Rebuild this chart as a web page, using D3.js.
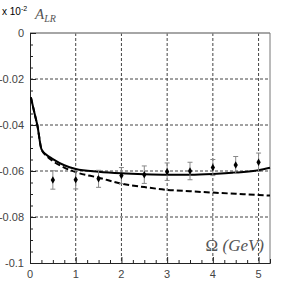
<!DOCTYPE html>
<html>
<head>
<meta charset="utf-8">
<script src="https://cdn.jsdelivr.net/npm/d3@7"></script>
<style>
  body { margin: 0; background: #fff; }
  svg { display: block; }
</style>
</head>
<body>
<svg id="chart"></svg>
<script>
// measured points with errors
var ptX = [0.5, 1.0, 1.5, 2.0, 2.5, 3.0, 3.5, 4.0, 4.5, 5.0];
var ptY = [-0.0639, -0.0638, -0.0634, -0.0620, -0.0616, -0.0603, -0.0600, -0.0585, -0.0574, -0.0562];
var ptErr = [0.0040, 0.0040, 0.0037, 0.0035, 0.0038, 0.0038, 0.0038, 0.0035, 0.0037, 0.0040];

// theory curves
var curveX = [0.02, 0.1, 0.16, 0.25, 0.35, 0.5, 0.75, 1.0, 1.5, 2.0, 2.5, 3.0, 3.5, 4.0, 4.5, 5.0, 5.25];
var solidY = [-0.028, -0.035, -0.040, -0.0505, -0.0528, -0.0548, -0.0575, -0.0591, -0.0603, -0.0610, -0.0614, -0.0616, -0.0616, -0.0613, -0.0607, -0.0597, -0.0586];
var dashY = [-0.028, -0.035, -0.040, -0.0505, -0.0532, -0.0557, -0.0585, -0.0605, -0.0629, -0.0655, -0.0670, -0.0682, -0.0688, -0.0694, -0.0699, -0.0704, -0.0707];

var xTicks = [0, 1, 2, 3, 4, 5];
var yTicks = [0, -0.02, -0.04, -0.06, -0.08, -0.1];
var yTickLabels = ["0", "-0.02", "-0.04", "-0.06", "-0.08", "-0.1"];

var width = 299, height = 289;
var margin = {left: 30, right: 29, top: 33, bottom: 26};

var svg = d3.select("#chart")
  .attr("width", width)
  .attr("height", height);

var x = d3.scaleLinear().domain([0, 5.25]).range([margin.left, width - margin.right]);
var y = d3.scaleLinear().domain([-0.1, 0]).range([height - margin.bottom, margin.top]);

// grid
svg.append("g")
  .selectAll("line")
  .data(xTicks.slice(1))
  .enter().append("line")
  .attr("x1", d => x(d)).attr("x2", d => x(d))
  .attr("y1", y(0)).attr("y2", y(-0.1))
  .attr("stroke", "#444").attr("stroke-width", 1)
  .attr("stroke-dasharray", "3,2");

svg.append("g")
  .selectAll("line")
  .data(yTicks.slice(1, -1))
  .enter().append("line")
  .attr("x1", x(0)).attr("x2", x(5.25))
  .attr("y1", d => y(d)).attr("y2", d => y(d))
  .attr("stroke", "#444").attr("stroke-width", 1)
  .attr("stroke-dasharray", "3,2");

// frame: top and right are grey
svg.append("line")
  .attr("x1", x(0)).attr("x2", x(5.25))
  .attr("y1", y(0)).attr("y2", y(0))
  .attr("stroke", "#888").attr("stroke-width", 1.5);
svg.append("line")
  .attr("x1", x(5.25)).attr("x2", x(5.25))
  .attr("y1", y(0)).attr("y2", y(-0.1))
  .attr("stroke", "#777").attr("stroke-width", 1);

// axes with inward ticks
var xAxis = d3.axisTop(x)
  .tickValues(d3.range(0, 5.26, 0.25))
  .tickSize(4)
  .tickFormat("");
svg.append("g")
  .attr("transform", "translate(0," + y(-0.1) + ")")
  .call(xAxis)
  .call(g => g.select(".domain").attr("stroke", "#222"))
  .call(g => g.selectAll(".tick line").attr("stroke", "#222")
    .attr("y2", d => (Math.abs(d - Math.round(d)) < 1e-6) ? -6 : -3));

var yAxis = d3.axisRight(y)
  .tickValues(d3.range(-0.1, 0.0001, 0.005))
  .tickSize(3)
  .tickFormat("");
svg.append("g")
  .attr("transform", "translate(" + x(0) + ",0)")
  .call(yAxis)
  .call(g => g.select(".domain").attr("stroke", "#222"))
  .call(g => g.selectAll(".tick line").attr("stroke", "#222")
    .attr("x2", d => (Math.abs(d * 50 - Math.round(d * 50)) < 1e-6) ? 6 : 3));

// tick labels
svg.append("g")
  .selectAll("text")
  .data(xTicks)
  .enter().append("text")
  .attr("x", d => x(d))
  .attr("y", 278)
  .attr("text-anchor", "middle")
  .attr("font-family", "Liberation Sans, Arial, sans-serif")
  .attr("font-size", "11px")
  .attr("fill", "#444")
  .text(d => d);

svg.append("g")
  .selectAll("text")
  .data(yTicks)
  .enter().append("text")
  .attr("x", 24)
  .attr("y", d => y(d) + 4)
  .attr("text-anchor", "end")
  .attr("font-family", "Liberation Sans, Arial, sans-serif")
  .attr("font-size", "11px")
  .attr("fill", "#444")
  .text((d, i) => yTickLabels[i]);

// curves
var solid = d3.line()
  .x((d, i) => x(curveX[i]))
  .y(d => y(d))
  .curve(d3.curveMonotoneX);

svg.append("path")
  .datum(solidY)
  .attr("d", solid)
  .attr("fill", "none")
  .attr("stroke", "#000")
  .attr("stroke-width", 2);

svg.append("path")
  .datum(dashY)
  .attr("d", solid)
  .attr("fill", "none")
  .attr("stroke", "#000")
  .attr("stroke-width", 2)
  .attr("stroke-dasharray", "6,3");

// error bars
var pts = ptX.map((d, i) => ({x: d, y: ptY[i], e: ptErr[i]}));
var eb = svg.append("g").attr("stroke", "#888").attr("stroke-width", 1);
eb.selectAll(".v").data(pts).enter().append("line")
  .attr("x1", d => x(d.x)).attr("x2", d => x(d.x))
  .attr("y1", d => y(d.y + d.e)).attr("y2", d => y(d.y - d.e));
eb.selectAll(".t").data(pts).enter().append("line")
  .attr("x1", d => x(d.x) - 2.5).attr("x2", d => x(d.x) + 2.5)
  .attr("y1", d => y(d.y + d.e)).attr("y2", d => y(d.y + d.e));
eb.selectAll(".b").data(pts).enter().append("line")
  .attr("x1", d => x(d.x) - 2.5).attr("x2", d => x(d.x) + 2.5)
  .attr("y1", d => y(d.y - d.e)).attr("y2", d => y(d.y - d.e));

svg.append("g")
  .selectAll("path")
  .data(pts)
  .enter().append("path")
  .attr("d", d3.symbol().type(d3.symbolDiamond).size(16))
  .attr("transform", d => "translate(" + x(d.x) + "," + y(d.y) + ")")
  .attr("fill", "#000");

// labels
var lab = svg.append("text")
  .attr("x", 2).attr("y", 15)
  .attr("font-family", "Liberation Sans, Arial, sans-serif")
  .attr("font-size", "10px")
  .attr("fill", "#000");
lab.append("tspan").text("x 10");
lab.append("tspan").attr("dy", -4).attr("font-size", "7px").text("-2");

var al = svg.append("text")
  .attr("x", 35).attr("y", 19)
  .attr("font-family", "Liberation Serif, Times New Roman, serif")
  .attr("font-style", "italic")
  .attr("font-size", "15px")
  .attr("fill", "#555");
al.append("tspan").text("A");
al.append("tspan").attr("dy", 3).attr("font-size", "10px").text("LR");

var om = svg.append("text")
  .attr("x", 264).attr("y", 251)
  .attr("text-anchor", "end")
  .attr("font-family", "Liberation Serif, Times New Roman, serif")
  .attr("font-size", "17px")
  .attr("fill", "#555");
om.append("tspan").text("Ω ");
om.append("tspan").attr("font-style", "italic").text("(GeV)");
</script>
</body>
</html>
